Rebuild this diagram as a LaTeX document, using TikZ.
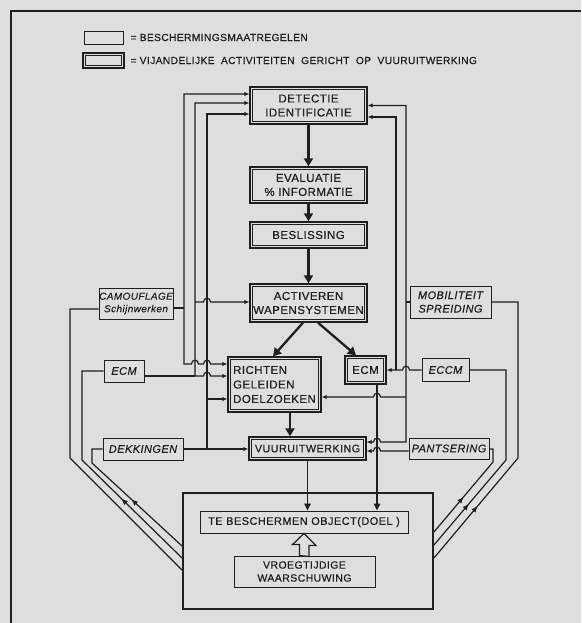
\documentclass[tikz,border=0pt]{standalone}
\usepackage{fontspec}
\setmainfont{Liberation Sans}[LetterSpace=4, FakeBold=0.5]
\usetikzlibrary{arrows.meta,decorations.markings}
\definecolor{ink}{gray}{0.12}
\definecolor{paper}{gray}{0.87}
\tikzset{
  threat/.style={draw=ink, line width=1.4pt, inner sep=0pt, text=ink, align=center,
                 font=\fontsize{11.5}{14}\selectfont,
                 path picture={\draw[ink, line width=0.8pt]
                   ([shift={(2.6pt,2.6pt)}]path picture bounding box.south west) rectangle
                   ([shift={(-2.6pt,-2.6pt)}]path picture bounding box.north east);}},
  defence/.style={draw=ink, line width=0.9pt, inner sep=0pt, text=ink, align=center,
                  font=\itshape\fontsize{11}{13.5}\selectfont},
  plainbox/.style={draw=ink, line width=0.9pt, inner sep=0pt, text=ink, align=center,
                   font=\fontsize{11}{14}\selectfont},
  flow/.style={draw=ink, line width=2.3pt, -{Triangle[length=8pt,width=9pt]}},
  feed/.style={draw=ink, line width=1.5pt, -{Triangle[length=7pt,width=6.5pt]}},
  link/.style={draw=ink, line width=1.2pt},
  toarrow/.style={-{Latex[length=5pt,width=4.5pt]}},
  fromarrow/.style={{Latex[length=5pt,width=4.5pt]}-},
  botharrow/.style={{Latex[length=5pt,width=4.5pt]}-{Latex[length=5pt,width=4.5pt]}},
  midtip/.style={postaction={decorate}, decoration={markings,
                 mark=at position #1 with {\arrow{Latex[length=6.5pt,width=5.5pt]}}}}
}
% line hop over a vertical line, for lines going right (r) or left (l)
\newcommand\hopr[2]{-- ({#1-3.5},#2) .. controls ({#1-3.5},{#2-5}) and ({#1+3.5},{#2-5}) .. ({#1+3.5},#2)}
\newcommand\hopl[2]{-- ({#1+3.5},#2) .. controls ({#1+3.5},{#2-5}) and ({#1-3.5},{#2-5}) .. ({#1-3.5},#2)}

\begin{document}
\begin{tikzpicture}[x=1pt, y=-1pt]
  \useasboundingbox (0,0) rectangle (581,623);
  \fill[paper] (0,0) rectangle (581,623);
  \draw[ink, line width=2.4pt] (11,623) -- (11,11) -- (581,11);

  % legend
  \node[defence, minimum width=39pt, minimum height=13pt] (leg1) at (103.5,37.5) {};
  \node[threat,  minimum width=41pt, minimum height=15pt] (leg2) at (103.5,60.5) {};
  \node[anchor=west, text=ink, font=\fontsize{10.2}{12}\selectfont] (legtxt1) at (127,37.5)
       {= BESCHERMINGSMAATREGELEN};
  \node[anchor=west, text=ink, font=\fontsize{10.2}{12}\selectfont] (legtxt2) at (127,60.5)
       {= VIJANDELIJKE\ \ ACTIVITEITEN\ \ GERICHT\ \ OP\ \ VUURUITWERKING};

  % enemy activities
  \node[threat, minimum width=117pt, minimum height=37pt] (det)  at (308.5,105.5) {DETECTIE\\IDENTIFICATIE};
  \node[threat, minimum width=117pt, minimum height=36pt] (eva)  at (308.5,185)   {EVALUATIE\\\% INFORMATIE};
  \node[threat, minimum width=117pt, minimum height=26pt] (bes)  at (308.5,235)   {BESLISSING};
  \node[threat, minimum width=117pt, minimum height=38pt] (act)  at (308.5,303)   {ACTIVEREN\\WAPENSYSTEMEN};
  \node[threat, minimum width=93pt,  minimum height=55pt, align=left,
        font=\fontsize{11.5}{14.5}\selectfont]               (ric)  at (274.5,384.5) {RICHTEN\\GELEIDEN\\DOELZOEKEN};
  \node[threat, minimum width=41pt,  minimum height=28pt] (ecmr) at (365.5,370)   {ECM};
  \node[threat, minimum width=117pt, minimum height=23pt,
        font=\fontsize{10.8}{13}\selectfont]                 (vuu)  at (307.5,448.5) {VUURUITWERKING};

  % protection measures
  \node[defence, minimum width=74pt, minimum height=31pt,
        font=\itshape\fontsize{10}{12.5}\selectfont]          (camo) at (136,303.5)   {CAMOUFLAGE\\Schijnwerken};
  \node[defence, minimum width=40pt, minimum height=22pt] (ecml) at (124,371)     {ECM};
  \node[defence, minimum width=80pt, minimum height=22pt] (dek)  at (143,449)     {DEKKINGEN};
  \node[defence, minimum width=81pt, minimum height=32pt] (mob)  at (450.5,302)   {MOBILITEIT\\SPREIDING};
  \node[defence, minimum width=47pt, minimum height=23pt] (eccm) at (445.5,370)   {ECCM};
  \node[defence, minimum width=80pt, minimum height=21pt] (pan)  at (449,448.5)   {PANTSERING};

  % object
  \node[draw=ink, line width=1.9pt, minimum width=250pt, minimum height=116pt] (obj) at (308,551) {};
  \node[plainbox, minimum width=208pt, minimum height=22pt] (doel)  at (304,522)   {TE BESCHERMEN OBJECT(DOEL )};
  \node[plainbox, minimum width=141pt, minimum height=31pt,
        font=\fontsize{10.5}{13}\selectfont]                   (vroeg) at (304.5,571.5) {VROEGTIJDIGE\\WAARSCHUWING};

  % main sequence
  \draw[flow] (det) -- (eva);
  \draw[flow] (eva) -- (bes);
  \draw[flow] (bes) -- (act);
  \draw[flow] ([xshift=-5.5pt]act.south) -- ([xshift=-1.5pt]ric.north);
  \draw[flow] ([xshift=9.5pt]act.south) -- ([xshift=-9.5pt]ecmr.north);
  \draw[flow] ([xshift=15.5pt]ric.south) -- ([xshift=15.5pt]ric.south |- vuu.north);
  \draw[feed] (vuu.south) -- (vuu.south |- doel.north);
  \draw[feed] ([xshift=11.5pt]ecmr.south) -- ([xshift=11.5pt]ecmr.south |- doel.north);
  \draw[link, fill=paper] ([xshift=-5pt]vroeg.north) -- ++(0,-11) -- ++(-7,0) -- (doel.south)
       -- ++(12,12) -- ++(-7,0) -- ++(0,11) -- cycle;

  % left side
  \draw[link, botharrow] ([yshift=11.5pt]det.west) -| (184,364) \hopr{195}{364} \hopr{207}{364} -- (ric.west |- 0,364);
  \draw[link] (camo.east |- 0,308) -- (184,308);
  \draw[link, botharrow] ([yshift=2.5pt]det.west) -| (195,376) \hopr{207}{376} -- (ric.west |- 0,376);
  \draw[link, toarrow] (195,302) \hopr{207}{302} -- (act.west |- 0,302);
  \draw[link] (ecml.east |- 0,376) -- (195,376);
  \draw[link, fromarrow] ([yshift=-8.5pt]det.west) -| (207,449);
  \draw[link, toarrow] (207,399) -- (ric.west |- 0,399);
  \draw[link, toarrow] (dek.east) -- (vuu.west |- dek.east);

  % right side
  \draw[link, botharrow] (det.east) -| (406,442) \hopl{377}{442} -- (vuu.east |- 0,442);
  \draw[link, toarrow] (406,397) \hopl{377}{397} -- (ric.east |- 0,397);
  \draw[link] (mob.west) -- (406,302);
  \draw[link, fromarrow] ([yshift=-11.5pt]det.east) -| (396,370);
  \draw[link, toarrow] (eccm.west) \hopl{406}{370} -- (ecmr.east);
  \draw[link, toarrow] (pan.west |- 0,451) \hopl{377}{451} -- (vuu.east |- 0,451);

  % from the object to its protection
  \draw[link, midtip=69pt] (obj.west |- 0,546) -- (92,463) -- (92,449) -- (dek.west);
  \draw[link, midtip=85pt] (obj.west |- 0,558) -- (82,460) -- (82,371) -- (ecml.west);
  \draw[link] (obj.west |- 0,570) -- (70,458) -- (70,309) -- (camo.west |- 0,309);
  \draw[link, midtip=46pt] (obj.east |- 0,532) -- (493,462) -- (493,449) -- (pan.east |- 0,449);
  \draw[link, midtip=54pt] (obj.east |- 0,545) -- (506,460) -- (506,370) -- (eccm.east);
  \draw[link, midtip=68pt] (obj.east |- 0,558) -- (518,458) -- (518,302) -- (mob.east);
\end{tikzpicture}
\end{document}
